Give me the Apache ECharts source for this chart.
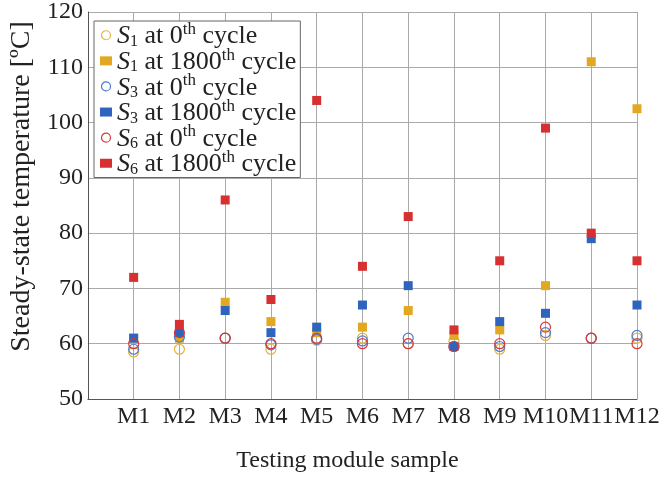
<!DOCTYPE html>
<html>
<head>
<meta charset="utf-8">
<script src="https://cdn.jsdelivr.net/npm/echarts@6/dist/echarts.min.js"></script>
<style>html,body{margin:0;padding:0;background:#fff;}#c{width:668px;height:479px;}</style>
</head>
<body>
<div id="c"></div>
<script>
var categories = ['M1','M2','M3','M4','M5','M6','M7','M8','M9','M10','M11','M12'];
var yTicks = [50, 60, 70, 80, 90, 100, 110, 120];
var s1_0    = [58.5, 59, 61, 59, 60.6, 61, 60, 60.5, 59, 61.5, 61, 61];
var s1_1800 = [61, 61, 67.5, 64, 62, 63, 66, 61.5, 62.5, 70.5, 111, 102.5];
var s3_0    = [59, 61.2, 61, 59.8, 60.8, 60.5, 61, 59.5, 59.5, 62, 61, 61.5];
var s3_1800 = [61, 62, 66, 62, 63, 67, 70.5, 59.5, 64, 65.5, 79, 67];
var s6_0    = [60, 62, 61, 60, 61, 60, 60, 59.5, 60, 63, 61, 60];
var s6_1800 = [72, 63.5, 86, 68, 104, 74, 83, 62.5, 75, 99, 80, 75];

var FONT = '"Liberation Serif", "Times New Roman", serif';
var YEL = '#E2A81F', BLU = '#2E64BE', RED = '#D63130';
var YELc = '#E6B23A', BLUc = '#4A7BD0', REDc = '#D63A3A';

function pts(arr){ return arr.map(function(v,i){ return [i+1, v]; }); }

var seriesDefs = [
  {name:'a', sub:'1', cyc:'0', data:s1_0, hollow:true, c:YELc},
  {name:'b', sub:'1', cyc:'1800', data:s1_1800, hollow:false, c:YEL},
  {name:'c', sub:'3', cyc:'0', data:s3_0, hollow:true, c:BLUc},
  {name:'d', sub:'3', cyc:'1800', data:s3_1800, hollow:false, c:BLU},
  {name:'e', sub:'6', cyc:'0', data:s6_0, hollow:true, c:REDc},
  {name:'f', sub:'6', cyc:'1800', data:s6_1800, hollow:false, c:RED}
];
var labelMap = {};
seriesDefs.forEach(function(d){ labelMap[d.name] = d; });

var series = seriesDefs.map(function(d){
  return {
    name: d.name,
    type: 'scatter',
    data: pts(d.data),
    symbol: d.hollow ? 'circle' : 'rect',
    symbolSize: d.hollow ? 10 : 9,
    itemStyle: d.hollow ? {color:'rgba(255,255,255,0)', borderColor:d.c, borderWidth:1.2, opacity:1}
                        : {color:d.c, opacity:1},
    emphasis: {disabled:true}
  };
});

var legendData = seriesDefs.map(function(d){
  return {
    name: d.name,
    icon: d.hollow ? 'circle' : 'rect',
    itemStyle: d.hollow ? {color:'rgba(255,255,255,0)', borderColor:d.c, borderWidth:1.2}
                        : {color:d.c}
  };
});

var chart = echarts.init(document.getElementById('c'), null, {renderer:'canvas'});
chart.setOption({
  animation: false,
  backgroundColor: '#fff',
  grid: {left: 85.5, right: 31, top: 12, bottom: 80, containLabel: false},
  xAxis: {
    type: 'value', min: 0, max: 12, interval: 1,
    name: 'Testing module sample', nameLocation: 'middle', nameGap: 50,
    nameTextStyle: {fontFamily: FONT, fontSize: 24, color: '#222', padding:[0,30,0,0]},
    axisLine: {show: true, lineStyle: {color: '#555', width: 1}},
    axisTick: {show: false},
    axisLabel: {fontFamily: FONT, fontSize: 24, color: '#222', margin: 6,
      formatter: function(v){ return (v >= 1 && v <= 12 && v % 1 === 0) ? categories[v-1] : ''; }},
    splitLine: {show: true, lineStyle: {color: '#aaa', width: 1}}
  },
  yAxis: {
    type: 'value', min: yTicks[0], max: yTicks[yTicks.length-1], interval: 10,
    name: 'Steady-state temperature [ºC]', nameLocation: 'middle', nameGap: 41,
    nameTextStyle: {fontFamily: FONT, fontSize: 28, color: '#222', padding:[0,0,0,38]},
    axisLine: {show: true, lineStyle: {color: '#555', width: 1}},
    axisTick: {show: false},
    axisLabel: {fontFamily: FONT, fontSize: 24, color: '#222', margin: 5},
    splitLine: {show: true, lineStyle: {color: '#aaa', width: 1}}
  },
  legend: {
    orient: 'vertical', left: 94, top: 21,
    padding: [0, 4, 0, 6],
    backgroundColor: '#fff', borderColor: '#666', borderWidth: 1,
    itemWidth: 12, itemHeight: 9, itemGap: -2.9, itemTextGap: 20,
    data: legendData,
    selectedMode: false,
    formatter: function(name){
      var d = labelMap[name];
      return '{i|S}{sub|' + d.sub + '}{n| at ' + d.cyc + '}{sup|th}{n| cycle}';
    },
    textStyle: {
      fontFamily: FONT, fontSize: 26, color: '#222',
      rich: {
        i: {fontFamily: FONT, fontSize: 26, fontStyle: 'italic', verticalAlign: 'bottom', color:'#222'},
        n: {fontFamily: FONT, fontSize: 26, verticalAlign: 'bottom', color:'#222'},
        sub: {fontFamily: FONT, fontSize: 16, verticalAlign: 'bottom', color:'#222'},
        sup: {fontFamily: FONT, fontSize: 17, verticalAlign: 'top', padding: [0, 0, 11.5, 0], color:'#222'}
      }
    }
  },
  series: series
});
</script>
</body>
</html>
